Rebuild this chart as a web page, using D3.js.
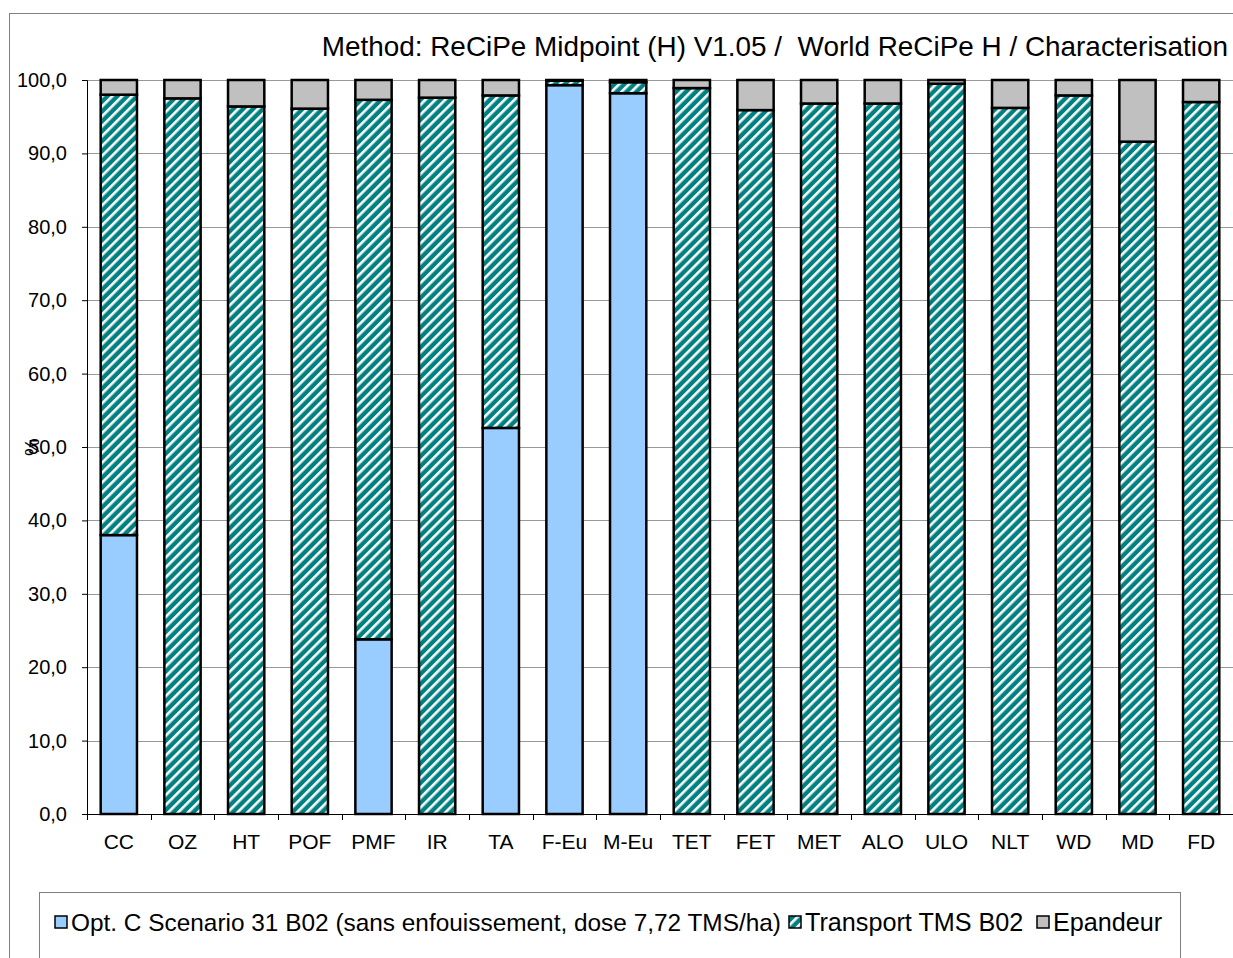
<!DOCTYPE html>
<html>
<head>
<meta charset="utf-8">
<script src="https://d3js.org/d3.v7.min.js"></script>
<style>
  body { margin: 0; background: #fff; }
  text { font-family: "Liberation Sans", Arial, sans-serif; fill: #000; }
</style>
</head>
<body>
<div id="chart"></div>
<script>
var svgWidth = 1233;
var svgHeight = 958;

var margin = {
  top: 80,
  right: 0,
  bottom: 144,
  left: 87
};

// categories and series (% of total per impact category)
var categories = ["CC", "OZ", "HT", "POF", "PMF", "IR", "TA", "F-Eu", "M-Eu", "TET", "FET", "MET", "ALO", "ULO", "NLT", "WD", "MD", "FD"];
var optC = [38.0, 0, 0, 0, 23.8, 0, 52.6, 99.3, 98.2, 0, 0, 0, 0, 0, 0, 0, 0, 0];
var transport = [60.0, 97.5, 96.4, 96.1, 73.5, 97.6, 45.3, 0.6, 1.5, 98.9, 95.9, 96.8, 96.8, 99.5, 96.2, 97.9, 91.6, 97.0];
var epandeur = [2.0, 2.5, 3.6, 3.9, 2.7, 2.4, 2.1, 0.1, 0.3, 1.1, 4.1, 3.2, 3.2, 0.5, 3.8, 2.1, 8.4, 3.0];
var seriesNames = ["Opt. C Scenario 31 B02 (sans enfouissement, dose 7,72 TMS/ha)", "Transport TMS B02", "Epandeur"];
var yTicks = [0, 10, 20, 30, 40, 50, 60, 70, 80, 90, 100];
var title = "Method: ReCiPe Midpoint (H) V1.05 /  World ReCiPe H / Characterisation";

var width = svgWidth - margin.left - margin.right;
var height = svgHeight - margin.top - margin.bottom;

var svg = d3.select("#chart")
  .append("svg")
  .attr("width", svgWidth)
  .attr("height", svgHeight);

// hatch pattern for the transport series
var defs = svg.append("defs");
var pat = defs.append("pattern")
  .attr("id", "hatch")
  .attr("patternUnits", "userSpaceOnUse")
  .attr("width", 7)
  .attr("height", 7)
  .attr("patternTransform", "rotate(45)");
pat.append("rect").attr("width", 7).attr("height", 7).attr("fill", "#008080");
pat.append("rect").attr("width", 2.6).attr("height", 7).attr("fill", "#fff");

var colors = ["#99CCFF", "url(#hatch)", "#C0C0C0"];

// outer chart frame
svg.append("rect")
  .attr("x", 9.5)
  .attr("y", 13.5)
  .attr("width", 1300)
  .attr("height", 1000)
  .attr("fill", "none")
  .attr("stroke", "#808080")
  .attr("stroke-width", 1);

svg.append("text")
  .attr("x", 1228)
  .attr("y", 56)
  .attr("text-anchor", "end")
  .attr("font-size", "27.9px")
  .style("white-space", "pre")
  .text(title);

var chartGroup = svg.append("g")
  .attr("transform", `translate(${margin.left}, ${margin.top})`);

var xBand = d3.scaleBand()
  .domain(categories)
  .range([0, width])
  .paddingInner(0.43)
  .paddingOuter(0.215);

var yLinearScale = d3.scaleLinear()
  .domain([0, 100])
  .range([height, 0]);

// gridlines
chartGroup.selectAll(".grid")
  .data(yTicks.slice(1))
  .enter()
  .append("line")
  .attr("x1", 0)
  .attr("x2", width)
  .attr("y1", d => Math.round(yLinearScale(d)) + 0.5)
  .attr("y2", d => Math.round(yLinearScale(d)) + 0.5)
  .attr("stroke", "#999")
  .attr("stroke-width", 1.2);

var table = categories.map(function(c, i) {
  return { cat: c, a: optC[i], b: transport[i], c: epandeur[i] };
});
var stack = d3.stack().keys(["a", "b", "c"]);
var layers = stack(table);

chartGroup.selectAll(".layer")
  .data(layers)
  .enter()
  .append("g")
  .attr("fill", (d, i) => colors[i])
  .selectAll("rect")
  .data(d => d.filter(p => p[1] - p[0] > 0))
  .enter()
  .append("rect")
  .attr("x", d => xBand(d.data.cat))
  .attr("width", xBand.bandwidth())
  .attr("y", d => yLinearScale(d[1]))
  .attr("height", d => yLinearScale(d[0]) - yLinearScale(d[1]))
  .attr("stroke", "#000")
  .attr("stroke-width", 2.5);

// y axis
var yAxis = d3.axisLeft(yLinearScale)
  .tickValues(yTicks)
  .tickSize(5)
  .tickFormat(d => d3.format(".1f")(d).replace(".", ","));

var yG = chartGroup.append("g").call(yAxis);
yG.select(".domain").attr("stroke", "#000");
yG.selectAll(".tick line").attr("stroke", "#000");
yG.selectAll(".tick text")
  .attr("x", -20)
  .attr("font-size", "20px")
  .attr("font-family", "Liberation Sans, Arial, sans-serif");

// x axis (ticks between categories)
chartGroup.append("line")
  .attr("x1", 0)
  .attr("x2", width)
  .attr("y1", height + 0.5)
  .attr("y2", height + 0.5)
  .attr("stroke", "#000");

var step = xBand.step();
chartGroup.selectAll(".xtick")
  .data(d3.range(categories.length + 1))
  .enter()
  .append("line")
  .attr("x1", d => Math.round(d * step) + 0.5)
  .attr("x2", d => Math.round(d * step) + 0.5)
  .attr("y1", height)
  .attr("y2", height + 6)
  .attr("stroke", "#000");

chartGroup.selectAll(".xlabel")
  .data(categories)
  .enter()
  .append("text")
  .attr("x", d => xBand(d) + xBand.bandwidth() / 2)
  .attr("y", height + 35)
  .attr("text-anchor", "middle")
  .attr("font-size", "21px")
  .text(d => d);

// y axis title (a rotated %)
svg.append("text")
  .attr("transform", "translate(39, 447) rotate(-90)")
  .attr("text-anchor", "middle")
  .attr("font-size", "20px")
  .text("%");

// legend
var legend = svg.append("g");
legend.append("rect")
  .attr("x", 39.5)
  .attr("y", 892.5)
  .attr("width", 1141)
  .attr("height", 100)
  .attr("fill", "#fff")
  .attr("stroke", "#808080");

var legendX = [55, 789, 1037];
seriesNames.forEach(function(name, i) {
  legend.append("rect")
    .attr("x", legendX[i])
    .attr("y", 916)
    .attr("width", 12)
    .attr("height", 12)
    .attr("fill", colors[i])
    .attr("stroke", "#000")
    .attr("stroke-width", 1.5);
  legend.append("text")
    .attr("x", legendX[i] + 16)
    .attr("y", 931)
    .attr("font-size", i == 0 ? "24.4px" : "25.2px")
    .text(name);
});
</script>
</body>
</html>
